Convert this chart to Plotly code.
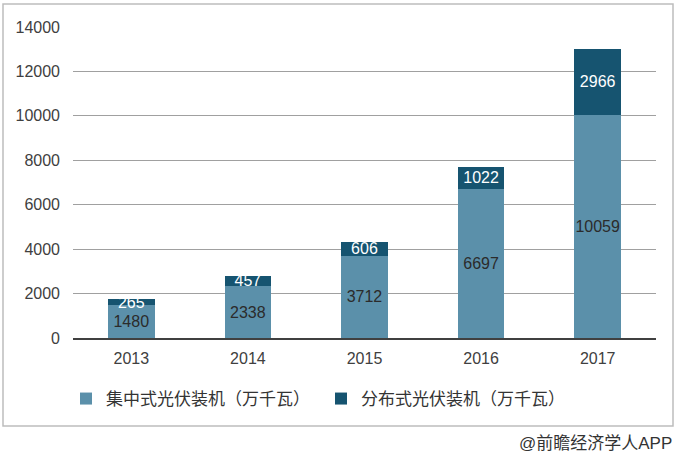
import plotly.graph_objects as go

years = ["2013", "2014", "2015", "2016", "2017"]
centralized = [1480, 2338, 3712, 6697, 10059]
distributed = [265, 457, 606, 1022, 2966]
name_c = "集中式光伏装机（万千瓦）"
name_d = "分布式光伏装机（万千瓦）"
source = "@前瞻经济学人APP"
y_ticks = [0, 2000, 4000, 6000, 8000, 10000, 12000, 14000]
y_ticktext = [str(v) for v in y_ticks]

FONT = "Liberation Sans, Arial, Noto Sans CJK SC, sans-serif"

W, H = 682, 462
L, R, T, B = 73, 26, 27, 124
pw, ph = W - L - R, H - T - B

def px2x(px):
    return (px - L) / pw

def py2y(py):
    return (H - B - py) / ph

fig = go.Figure()
fig.add_trace(go.Bar(
    x=years, y=centralized, name=name_c,
    marker=dict(color="#5b90aa", line=dict(width=0)),
    text=[str(v) for v in centralized], textposition="inside",
    insidetextanchor="middle", textangle=0,
    textfont=dict(color="#2b2b2b", size=16, family=FONT),
))
fig.add_trace(go.Bar(
    x=years, y=distributed, name=name_d,
    marker=dict(color="#165470", line=dict(width=0)),
    text=[str(v) for v in distributed], textposition="inside",
    insidetextanchor="middle", textangle=0,
    textfont=dict(color="#ffffff", size=16, family=FONT),
))

fig.update_layout(
    width=W, height=H,
    margin=dict(l=L, r=R, t=T, b=B),
    barmode="stack", bargap=0.6,
    paper_bgcolor="white", plot_bgcolor="white",
    font=dict(family=FONT, color="#404040", size=16),
    uniformtext=dict(minsize=16, mode="show"),
    showlegend=True,
    legend=dict(orientation="h", x=px2x(66), y=py2y(381), xanchor="left", yanchor="top",
                font=dict(size=17, color="#333333"), itemwidth=30, traceorder="normal",
                entrywidth=210, entrywidthmode="pixels"),
    xaxis=dict(showline=True, linecolor="#404040", linewidth=1.5, ticks="",
               tickfont=dict(size=16, color="#404040"), showgrid=False,
               ticklabelstandoff=5),
    yaxis=dict(range=[0, 14000], tickvals=y_ticks, ticktext=y_ticktext,
               showgrid=True, gridcolor="#a0a0a0",
               gridwidth=1, zeroline=False, showline=False, ticks="",
               tickfont=dict(size=16, color="#404040"), ticklabelstandoff=12),
)

fig.add_shape(type="rect", xref="paper", yref="paper",
              x0=px2x(3), x1=px2x(673), y0=py2y(426), y1=py2y(4),
              line=dict(color="#bdbdbd", width=1.5), fillcolor="rgba(0,0,0,0)", layer="below")

fig.add_annotation(text=source, xref="paper", yref="paper", x=px2x(674), y=py2y(443),
                   xanchor="right", yanchor="middle", showarrow=False,
                   font=dict(size=17, color="#333333", family=FONT))

fig.write_html("out.html", config={"displayModeBar": False},
               post_script="document.body.style.margin='0px';")
